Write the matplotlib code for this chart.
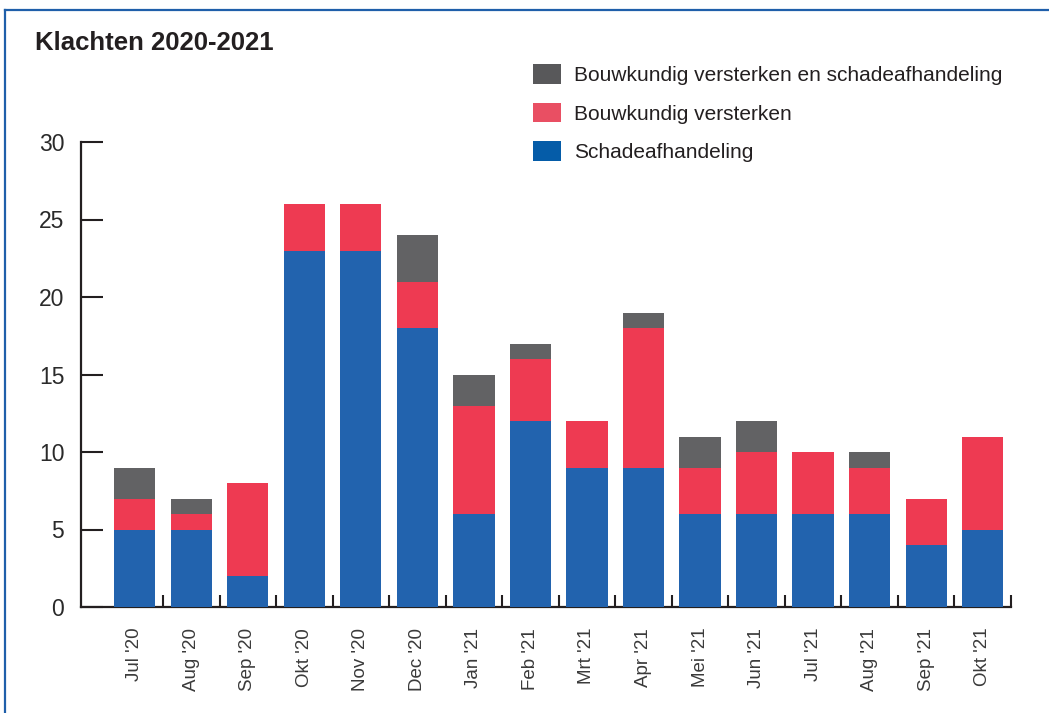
import matplotlib
matplotlib.use("Agg")
import matplotlib.pyplot as plt
from matplotlib.patches import Patch
from matplotlib.lines import Line2D
import numpy as np

plt.rcParams['font.family'] = ['Liberation Sans', 'DejaVu Sans']

months = ["Jul '20", "Aug '20", "Sep '20", "Okt '20", "Nov '20", "Dec '20",
          "Jan '21", "Feb '21", "Mrt '21", "Apr '21", "Mei '21", "Jun '21",
          "Jul '21", "Aug '21", "Sep '21", "Okt '21"]
schade = [5, 5, 2, 23, 23, 18, 6, 12, 9, 9, 6, 6, 6, 6, 4, 5]
versterken = [2, 1, 6, 3, 3, 3, 7, 4, 3, 9, 3, 4, 4, 3, 3, 6]
beide = [2, 1, 0, 0, 0, 3, 2, 1, 0, 1, 2, 2, 0, 1, 0, 0]
series_labels = ["Bouwkundig versterken en schadeafhandeling",
                 "Bouwkundig versterken", "Schadeafhandeling"]
yticks = [0, 5, 10, 15, 20, 25, 30]

c_blue, c_red, c_grey = "#2263AE", "#EE3A52", "#626264"
leg_blue, leg_red, leg_grey = "#055CA8", "#E94F63", "#58585A"
txt = "#231F20"

fig = plt.figure(figsize=(10.49, 7.13), dpi=100)
ax = fig.add_axes([81/1049, 106/713, (1011-81)/1049, (571-106)/713])

x = np.arange(len(months))
s = np.array(schade); v = np.array(versterken); b = np.array(beide)
w = 0.73
ax.bar(x, s, w, color=c_blue, zorder=1)
ax.bar(x, v, w, bottom=s, color=c_red, zorder=1)
ax.bar(x, b, w, bottom=s + v, color=c_grey, zorder=1)

ax.set_xlim(-0.95, 15.5)
ax.set_ylim(0, 30)
for sp in ['top', 'right']:
    ax.spines[sp].set_visible(False)
for sp in ['left', 'bottom']:
    ax.spines[sp].set_linewidth(1.6)
    ax.spines[sp].set_color(txt)
    ax.spines[sp].set_zorder(0)

ax.set_yticks(yticks)
ax.set_yticklabels([str(t) for t in yticks], fontsize=16.5, color="#2a2a2a")
ax.tick_params(axis='y', direction='in', length=16, width=1.5, color=txt, pad=12)

ax.set_xticks(x)
ax.set_xticklabels(months, rotation=90, fontsize=13.5, color="#3a3a3a")
ax.tick_params(axis='x', which='major', length=0, pad=15)
ax.set_xticks(np.arange(len(months)) + 0.5, minor=True)
ax.tick_params(axis='x', which='minor', direction='in', length=8.5, width=1.5, color=txt)

handles = [Patch(facecolor=leg_grey, edgecolor='none'),
           Patch(facecolor=leg_red, edgecolor='none'),
           Patch(facecolor=leg_blue, edgecolor='none')]
fig.legend(handles, series_labels, loc='upper left',
           bbox_to_anchor=(527/1049, 1 - 58/713), frameon=False,
           fontsize=15, handlelength=1.35, handleheight=1.06,
           handletextpad=0.6, labelspacing=0.85, labelcolor=txt,
           borderaxespad=0, borderpad=0.3)

fig.text(35/1049, 1 - 50/713, "Klachten 2020-2021", fontsize=18.5,
         fontweight='bold', color=txt, ha='left', va='baseline')

fig.add_artist(Line2D([5/1049, 1], [1 - 10/713, 1 - 10/713],
                      transform=fig.transFigure, color="#1F5FAA", lw=1.6))
fig.add_artist(Line2D([5/1049, 5/1049], [0, 1 - 10/713],
                      transform=fig.transFigure, color="#1F5FAA", lw=1.6))

fig.savefig("out.png", dpi=100)
